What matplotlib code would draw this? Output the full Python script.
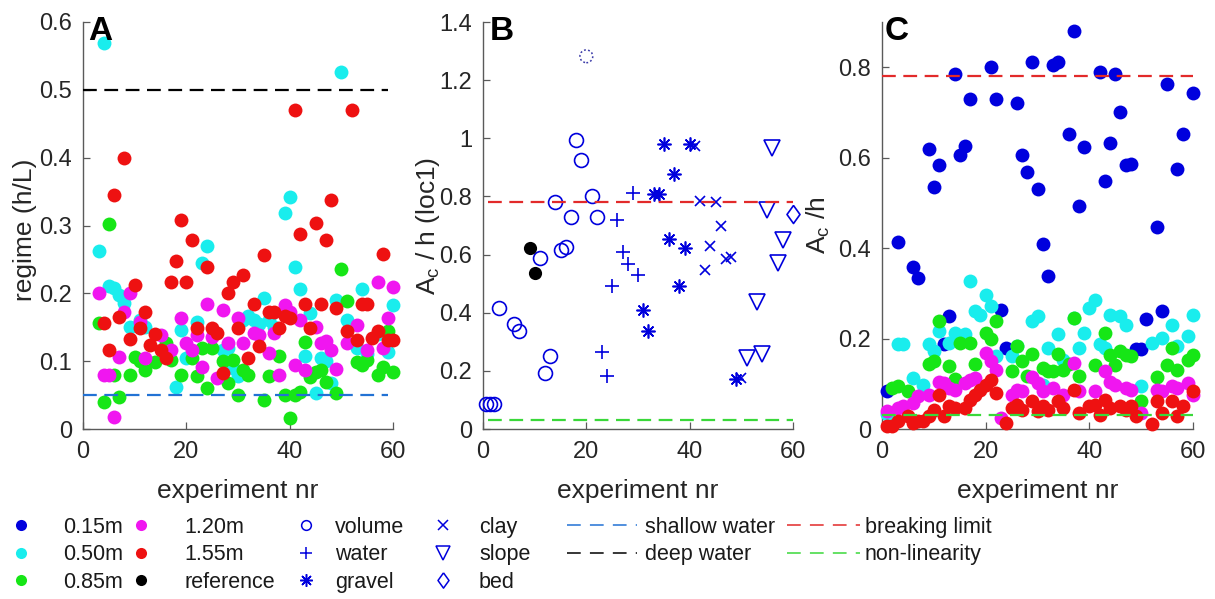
import numpy as np
import matplotlib.pyplot as plt
from matplotlib.lines import Line2D
from matplotlib.ticker import FormatStrFormatter

plt.rcParams['font.family'] = ['Liberation Sans', 'DejaVu Sans']
plt.rcParams['mathtext.default'] = 'regular'

# ---------------- data: panel A, regime (h/L) ----------------
a_cyan_x = [3, 4, 5, 6, 7, 8, 9, 11, 12, 18, 19, 20, 22, 23, 24, 27, 28, 29, 30, 31, 32, 33, 34, 35, 36, 37,
            39, 40, 41, 42, 43, 44, 45, 46, 47, 48, 49, 50, 51, 53, 54, 55, 57, 59, 60]
a_cyan_y = [0.263, 0.569, 0.211, 0.208, 0.198, 0.186, 0.150, 0.160, 0.150, 0.062, 0.146, 0.105, 0.158, 0.244,
            0.270, 0.117, 0.120, 0.090, 0.078, 0.160, 0.166, 0.160, 0.155, 0.193, 0.160, 0.150,
            0.318, 0.342, 0.239, 0.207, 0.107, 0.171, 0.053, 0.105, 0.100, 0.068, 0.190, 0.527, 0.161,
            0.120, 0.207, 0.110, 0.140, 0.114, 0.183]

a_green_x = [3, 4, 5, 6, 7, 9, 10, 11, 12, 14, 16, 17, 19, 21, 22, 23, 24, 25, 27, 28, 29, 30, 31, 32, 35,
             36, 38, 39, 40, 41, 42, 43, 44, 45, 46, 47, 49, 50, 51, 53, 54, 55, 57, 58, 59, 60]
a_green_y = [0.156, 0.040, 0.302, 0.080, 0.047, 0.080, 0.106, 0.100, 0.087, 0.099, 0.127, 0.102, 0.080,
             0.105, 0.078, 0.119, 0.060, 0.120, 0.100, 0.068, 0.102, 0.050, 0.087, 0.080, 0.043,
             0.078, 0.107, 0.050, 0.016, 0.050, 0.055, 0.128, 0.077, 0.084, 0.087, 0.069, 0.053,
             0.236, 0.189, 0.099, 0.095, 0.102, 0.080, 0.092, 0.144, 0.084]

a_magenta_x = [3, 4, 5, 6, 7, 8, 9, 11, 12, 15, 17, 19, 20, 21, 22, 23, 24, 25, 26, 27, 28, 30, 31, 33, 34,
               36, 37, 38, 39, 40, 41, 42, 43, 45, 46, 47, 48, 49, 51, 53, 55, 57, 58, 59, 60]
a_magenta_y = [0.200, 0.080, 0.080, 0.018, 0.106, 0.172, 0.200, 0.158, 0.105, 0.139, 0.117, 0.164, 0.127,
               0.117, 0.139, 0.092, 0.185, 0.136, 0.075, 0.176, 0.127, 0.163, 0.127, 0.141, 0.139,
               0.112, 0.141, 0.080, 0.183, 0.173, 0.094, 0.161, 0.087, 0.151, 0.127, 0.129, 0.117,
               0.088, 0.127, 0.153, 0.117, 0.217, 0.120, 0.164, 0.210]

a_red_x = [4, 5, 6, 7, 8, 9, 10, 11, 12, 13, 14, 15, 16, 17, 18, 19, 20, 21, 22, 24, 25, 26, 27, 28, 29, 30,
           31, 32, 33, 34, 35, 36, 37, 38, 39, 40, 41, 42, 43, 44, 45, 46, 47, 48, 49, 51, 52, 53, 54, 55,
           56, 57, 58, 59, 60]
a_red_y = [0.156, 0.117, 0.345, 0.165, 0.399, 0.133, 0.212, 0.149, 0.173, 0.124, 0.140, 0.117, 0.105,
           0.216, 0.247, 0.308, 0.216, 0.279, 0.149, 0.239, 0.149, 0.141, 0.082, 0.200, 0.217, 0.149,
           0.227, 0.105, 0.185, 0.122, 0.257, 0.173, 0.173, 0.149, 0.166, 0.163, 0.470, 0.288, 0.185,
           0.149, 0.303, 0.185, 0.279, 0.338, 0.178, 0.144, 0.470, 0.131, 0.185, 0.185, 0.134, 0.144,
           0.258, 0.131, 0.131]

# ---------------- data: panel B, Ac/h at loc1 by experiment type ----------------
b_volume_x = [0.6, 1.3, 2.1, 3, 6, 7, 11, 12, 13, 14, 15, 16, 17, 18, 19, 21, 22]
b_volume_y = [0.086, 0.086, 0.086, 0.416, 0.361, 0.338, 0.587, 0.192, 0.252, 0.782, 0.616, 0.627, 0.730,
              0.994, 0.925, 0.801, 0.730]
b_water_x = [23, 24, 25, 26, 27, 28, 29, 30]
b_water_y = [0.264, 0.181, 0.493, 0.719, 0.608, 0.567, 0.813, 0.530]
b_gravel_x = [31, 32, 33, 34, 35, 36, 37, 38, 39, 40, 49]
b_gravel_y = [0.408, 0.338, 0.807, 0.810, 0.982, 0.652, 0.877, 0.492, 0.624, 0.982, 0.172]
b_clay_x = [41, 42, 43, 44, 45, 46, 47, 48, 50]
b_clay_y = [0.974, 0.784, 0.547, 0.630, 0.782, 0.699, 0.585, 0.590, 0.175]
b_slope_x = [51, 53, 54, 55, 56, 57, 58]
b_slope_y = [0.244, 0.438, 0.258, 0.755, 0.968, 0.570, 0.650]
b_bed_x = [60]
b_bed_y = [0.739]
b_ref_x = [9, 10]
b_ref_y = [0.622, 0.538]
b_outlier_x = [20]
b_outlier_y = [1.282]

# ---------------- data: panel C, Ac/h per location depth ----------------
c_blue_x = [1, 3, 6, 7, 9, 10, 11, 12, 13, 14, 15, 16, 17, 21, 22, 23, 24, 26, 27, 28, 29, 30, 31, 32, 33,
            34, 36, 37, 38, 39, 42, 43, 44, 45, 46, 47, 48, 49, 50, 51, 53, 54, 55, 57, 58, 60]
c_blue_y = [0.083, 0.414, 0.358, 0.334, 0.619, 0.535, 0.583, 0.187, 0.249, 0.784, 0.607, 0.625, 0.729,
            0.800, 0.729, 0.263, 0.179, 0.720, 0.607, 0.568, 0.811, 0.531, 0.408, 0.339, 0.804,
            0.811, 0.653, 0.881, 0.494, 0.623, 0.789, 0.549, 0.633, 0.784, 0.701, 0.583, 0.586,
            0.176, 0.176, 0.243, 0.446, 0.260, 0.763, 0.574, 0.653, 0.742]
c_cyan_x = [1, 3, 4, 6, 8, 9, 10, 11, 13, 14, 15, 16, 17, 18, 19, 20, 21, 22, 25, 26, 29, 30, 31, 32, 34,
            35, 37, 38, 39, 40, 41, 42, 43, 44, 46, 47, 50, 52, 54, 56, 57, 59, 60]
c_cyan_y = [0.033, 0.187, 0.187, 0.113, 0.098, 0.187, 0.172, 0.216, 0.190, 0.212, 0.200, 0.209, 0.327,
            0.260, 0.253, 0.297, 0.271, 0.161, 0.161, 0.183, 0.238, 0.249, 0.098, 0.179, 0.209,
            0.153, 0.246, 0.179, 0.212, 0.268, 0.286, 0.187, 0.179, 0.253, 0.249, 0.231, 0.094,
            0.190, 0.201, 0.231, 0.183, 0.205, 0.253]
c_green_x = [2, 3, 5, 9, 10, 11, 13, 14, 15, 17, 18, 20, 21, 22, 25, 26, 27, 28, 29, 31, 32, 33, 34, 35, 36,
             37, 38, 41, 43, 44, 45, 46, 47, 48, 50, 53, 55, 56, 57, 59, 60]
c_green_y = [0.091, 0.095, 0.084, 0.144, 0.150, 0.239, 0.140, 0.110, 0.190, 0.190, 0.144, 0.212, 0.200,
             0.238, 0.128, 0.184, 0.150, 0.117, 0.166, 0.135, 0.128, 0.128, 0.166, 0.131, 0.144,
             0.246, 0.117, 0.142, 0.212, 0.164, 0.142, 0.172, 0.164, 0.161, 0.061, 0.116, 0.142,
             0.179, 0.131, 0.153, 0.164]
c_magenta_x = [1, 3, 4, 6, 7, 9, 11, 12, 13, 14, 16, 17, 18, 20, 21, 22, 23, 25, 26, 27, 29, 30, 31, 33,
               35, 37, 38, 41, 43, 44, 45, 47, 48, 50, 53, 54, 56, 57, 59, 60]
c_magenta_y = [0.039, 0.046, 0.050, 0.057, 0.072, 0.076, 0.105, 0.102, 0.091, 0.087, 0.102, 0.109, 0.113,
               0.168, 0.150, 0.131, 0.024, 0.076, 0.087, 0.083, 0.116, 0.102, 0.083, 0.091, 0.076,
               0.146, 0.083, 0.083, 0.128, 0.105, 0.098, 0.091, 0.087, 0.035, 0.087, 0.083, 0.094,
               0.091, 0.102, 0.076]
c_red_x = [1, 2, 3, 5, 6, 7, 8, 9, 10, 11, 12, 13, 14, 16, 17, 18, 19, 20, 21, 22, 24, 25, 26, 27, 29, 30,
           31, 32, 34, 35, 37, 38, 40, 41, 42, 43, 44, 46, 47, 48, 49, 52, 53, 54, 56, 57, 58, 60]
c_red_y = [0.006, 0.006, 0.017, 0.028, 0.013, 0.017, 0.017, 0.028, 0.043, 0.076, 0.028, 0.050, 0.046,
           0.046, 0.065, 0.076, 0.087, 0.098, 0.109, 0.080, 0.013, 0.046, 0.054, 0.043, 0.061, 0.039,
           0.050, 0.043, 0.061, 0.046, 0.087, 0.035, 0.050, 0.054, 0.032, 0.065, 0.046, 0.050, 0.043,
           0.050, 0.028, 0.010, 0.061, 0.035, 0.061, 0.028, 0.050, 0.083]

# reference levels
shallow_water = 0.05
deep_water = 0.5
breaking_limit = 0.78
non_linearity = 0.03

# ---------------- styling ----------------
col_blue = '#0000dd'
col_cyan = '#19eded'
col_green = '#16e616'
col_magenta = '#f016f0'
col_red = '#ee1111'
col_ref = '#000000'
col_shallow = '#2272d4'
col_deep = '#000000'
col_break = '#e22a2a'
col_nonlin = '#3ad83a'
dash = (0, (6.2, 3.4))
DOT = 10
W, H = 1215, 599

fig = plt.figure(figsize=(W / 100, H / 100), dpi=100)
axA = fig.add_axes([83 / W, 1 - 429 / H, 310 / W, 407 / H])
axB = fig.add_axes([483 / W, 1 - 429 / H, 310 / W, 407 / H])
axC = fig.add_axes([882 / W, 1 - 429 / H, 311 / W, 407 / H])


def style(ax, ymax, yticks, ylabel, label_x, label_y=0.5):
    ax.set_xlim(0, 60)
    ax.set_ylim(0, ymax)
    ax.set_xticks([0, 20, 40, 60])
    ax.set_yticks(yticks)
    ax.yaxis.set_major_formatter(FormatStrFormatter('%g'))
    for s in ['top', 'right']:
        ax.spines[s].set_visible(False)
    for s in ['left', 'bottom']:
        ax.spines[s].set_color('#5a5a5a')
        ax.spines[s].set_linewidth(1.0)
    ax.tick_params(direction='in', length=5, width=0.9, color='#5a5a5a',
                   labelcolor='#262626', labelsize=17)
    ax.tick_params(axis='x', pad=9)
    ax.tick_params(axis='y', pad=8)
    ax.set_xlabel('experiment nr', fontsize=19, color='#262626', labelpad=11)
    ax.set_ylabel(ylabel, fontsize=19, color='#262626')
    ax.yaxis.set_label_coords(label_x, label_y)


def dots(ax, x, y, c):
    ax.plot(x, y, 'o', ms=DOT, color=c, mec='none', clip_on=False, zorder=3)


# panel A
for x, y, c in [(a_cyan_x, a_cyan_y, col_cyan), (a_green_x, a_green_y, col_green),
                (a_magenta_x, a_magenta_y, col_magenta), (a_red_x, a_red_y, col_red)]:
    dots(axA, x, y, c)
axA.hlines(deep_water, 0, 59, colors=col_deep, linestyles=dash, lw=1.6, zorder=4)
axA.hlines(shallow_water, 0, 59, colors=col_shallow, linestyles=dash, lw=1.6, zorder=4)
style(axA, 0.6, np.arange(0, 0.61, 0.1), 'regime (h/L)', -0.148, 0.49)

# panel B
diamond = [(0, 1), (0.72, 0), (0, -1), (-0.72, 0), (0, 1)]
mk = dict(ls='none', color=col_blue, mfc='none', mew=1.2, clip_on=False, zorder=3)
axB.plot(b_volume_x, b_volume_y, marker='o', ms=10, **mk)
axB.plot(b_water_x, b_water_y, marker='+', ms=10, **mk)
axB.plot(b_gravel_x, b_gravel_y, marker=(8, 2, 0), ms=10, **mk)
axB.plot(b_clay_x, b_clay_y, marker='x', ms=7.5, **mk)
axB.plot(b_slope_x, b_slope_y, marker='v', ms=12, **mk)
axB.plot(b_bed_x, b_bed_y, marker=diamond, ms=13, **mk)
axB.plot(b_ref_x, b_ref_y, 'o', ms=9.5, color=col_ref, mec='none', clip_on=False, zorder=3)
axB.scatter(b_outlier_x, b_outlier_y, s=85, facecolors='none', edgecolors='#3a3aa8',
            linewidths=1.1, linestyles=(0, (1.2, 1.5)), zorder=3)
axB.hlines(breaking_limit, 1, 60, colors=col_break, linestyles=dash, lw=1.6, zorder=4)
axB.hlines(non_linearity, 1, 60, colors=col_nonlin, linestyles=dash, lw=1.6, zorder=4)
style(axB, 1.4, np.arange(0, 1.41, 0.2), 'A$_c$ / h (loc1)', -0.132)

# panel C
for x, y, c in [(c_blue_x, c_blue_y, col_blue), (c_cyan_x, c_cyan_y, col_cyan),
                (c_green_x, c_green_y, col_green), (c_magenta_x, c_magenta_y, col_magenta),
                (c_red_x, c_red_y, col_red)]:
    dots(axC, x, y, c)
axC.hlines(breaking_limit, 0, 60, colors=col_break, linestyles=dash, lw=1.6, zorder=4)
axC.hlines(non_linearity, 0, 60, colors=col_nonlin, linestyles=dash, lw=1.6, zorder=4)
style(axC, 0.9, np.arange(0, 0.81, 0.2), 'A$_c$ /h', -0.161)

for ax, lab, xo in [(axA, 'A', 0.016), (axB, 'B', 0.023), (axC, 'C', 0.01)]:
    ax.text(xo, 1.015, lab, transform=ax.transAxes, fontsize=24, fontweight='bold',
            va='top', ha='left', color='black', zorder=5)

# ---------------- legends along the bottom ----------------
LFS = 15.5
FPX = LFS * 100 / 72


def add_legend(handles, labels, x_px, top_px, hl_px, pad_px):
    fig.legend(handles, labels, loc='upper left', bbox_to_anchor=(x_px / W, 1 - top_px / H),
               frameon=False, fontsize=LFS, handlelength=hl_px / FPX, handletextpad=pad_px / FPX,
               borderpad=0, borderaxespad=0, labelspacing=0.30, labelcolor='#1a1a1a')


def mh(marker, ms, color, filled=True):
    if filled:
        return Line2D([], [], ls='none', marker=marker, ms=ms, color=color, mec='none')
    return Line2D([], [], ls='none', marker=marker, ms=ms, color=color, mfc='none', mew=1.1)


def lh(color):
    return Line2D([], [], color=color, lw=1.1, ls=(0, (9, 6)))


add_legend([mh('o', 8, col_blue), mh('o', 8, col_cyan), mh('o', 8, col_green)],
           ['0.15m', '0.50m', '0.85m'], 5.6, 517, 30, 28)
add_legend([mh('o', 8, col_magenta), mh('o', 8, col_red), mh('o', 8, col_ref)],
           ['1.20m', '1.55m', 'reference'], 126, 517, 30, 28)
add_legend([mh('o', 7, col_blue, False), mh('+', 9, col_blue, False), mh((8, 2, 0), 9, col_blue, False)],
           ['volume', 'water', 'gravel'], 291, 517, 30, 14)
add_legend([mh('x', 6.5, col_blue, False), mh('v', 9.5, col_blue, False), mh(diamond, 11, col_blue, False)],
           ['clay', 'slope', 'bed'], 428, 517, 30, 21)
add_legend([lh(col_shallow), lh(col_deep)], ['shallow water', 'deep water'], 567, 517, 70, 8)
add_legend([lh(col_break), lh(col_nonlin)], ['breaking limit', 'non-linearity'], 787, 517, 73, 5)

fig.savefig('out.png', dpi=100)
